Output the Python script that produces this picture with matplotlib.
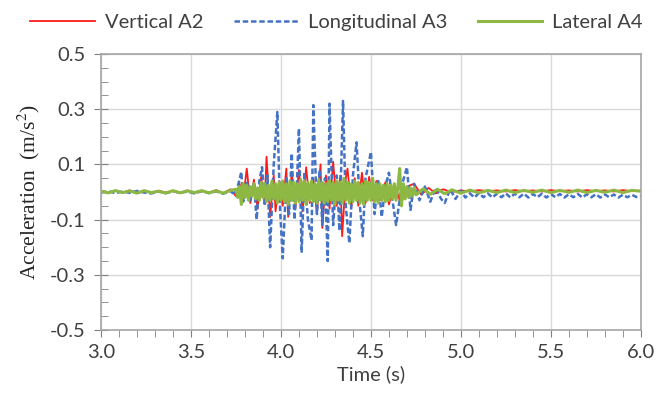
import matplotlib
matplotlib.use("Agg")
import matplotlib.pyplot as plt
import numpy as np
from matplotlib.ticker import MultipleLocator, FormatStrFormatter

# Vertical A2 (red)
red_t = [3.00, 3.04, 3.08, 3.12, 3.16, 3.20, 3.24, 3.28, 3.32, 3.36, 3.40, 3.44,
         3.48, 3.52, 3.56, 3.60, 3.64, 3.68, 3.72, 3.75, 3.77, 3.79, 3.81, 3.83,
         3.85, 3.87, 3.89, 3.91, 3.92, 3.94, 3.96, 3.97, 3.99, 4.01, 4.03, 4.04,
         4.06, 4.08, 4.10, 4.12, 4.14, 4.16, 4.18, 4.20, 4.22, 4.23, 4.25, 4.27,
         4.29, 4.31, 4.33, 4.34, 4.36, 4.37, 4.39, 4.41, 4.43, 4.45, 4.47, 4.49,
         4.51, 4.53, 4.55, 4.58, 4.60, 4.63, 4.66, 4.70, 4.74, 4.78, 4.82, 4.86,
         4.90, 4.95, 5.00, 5.05, 5.10, 5.15, 5.20, 5.25, 5.30, 5.35, 5.40, 5.45,
         5.50, 5.55, 5.60, 5.65, 5.70, 5.75, 5.80, 5.85, 5.90, 5.95, 6.00]
red_a = [0.004, -0.003, 0.005, -0.002, 0.006, -0.004, 0.003, -0.003, 0.005, -0.002, 0.004, -0.004,
         0.006, -0.003, 0.004, -0.002, 0.007, -0.004, 0.010, -0.015, 0.030, -0.025, 0.085, -0.040,
         0.045, -0.060, 0.055, -0.030, 0.128, -0.090, 0.060, -0.070, 0.040, -0.050, 0.085, -0.090,
         0.070, -0.060, 0.080, -0.070, 0.090, -0.040, 0.050, -0.080, 0.100, -0.130, 0.060, -0.060,
         0.110, -0.050, 0.060, -0.160, 0.050, 0.085, -0.060, 0.050, -0.050, 0.070, -0.040, 0.055,
         -0.030, 0.040, -0.030, 0.035, -0.045, 0.030, -0.030, 0.020, 0.030, -0.010, 0.015, -0.005,
         0.010, 0.000, 0.006, 0.002, 0.007, 0.003, 0.006, 0.002, 0.007, 0.003, 0.006, 0.002,
         0.007, 0.003, 0.006, 0.002, 0.007, 0.003, 0.006, 0.002, 0.007, 0.003, 0.005]

# Longitudinal A3 (blue dashed)
blue_t = [3.00, 3.04, 3.08, 3.12, 3.16, 3.20, 3.24, 3.28, 3.32, 3.36, 3.40, 3.44,
          3.48, 3.52, 3.56, 3.60, 3.64, 3.68, 3.72, 3.74, 3.76, 3.78, 3.79, 3.81,
          3.83, 3.85, 3.865, 3.88, 3.895, 3.91, 3.925, 3.94, 3.96, 3.98, 3.995, 4.01,
          4.03, 4.045, 4.06, 4.075, 4.09, 4.10, 4.115, 4.13, 4.15, 4.17, 4.18, 4.20,
          4.215, 4.23, 4.245, 4.26, 4.27, 4.29, 4.31, 4.325, 4.345, 4.36, 4.38, 4.40,
          4.42, 4.44, 4.455, 4.47, 4.50, 4.52, 4.54, 4.56, 4.58, 4.60, 4.62, 4.64,
          4.67, 4.70, 4.72, 4.74, 4.77, 4.80, 4.83, 4.86, 4.89, 4.91, 4.94, 4.97,
          5.00, 5.025, 5.05, 5.075, 5.10, 5.125, 5.15, 5.175, 5.20, 5.225, 5.25, 5.275,
          5.30, 5.325, 5.35, 5.375, 5.40, 5.425, 5.45, 5.475, 5.50, 5.525, 5.55, 5.575,
          5.60, 5.625, 5.65, 5.675, 5.70, 5.725, 5.75, 5.775, 5.80, 5.825, 5.85, 5.875,
          5.90, 5.925, 5.95, 5.975, 6.00]
blue_a = [-0.002, 0.003, -0.004, 0.002, -0.003, 0.004, -0.002, -0.005, 0.002, -0.004, 0.003, -0.003,
          0.002, -0.005, 0.003, -0.004, 0.002, -0.006, 0.004, -0.010, 0.020, 0.073, -0.035, 0.040,
          -0.030, 0.030, -0.100, 0.040, 0.090, -0.050, 0.060, -0.200, 0.100, 0.290, -0.060, -0.240,
          0.050, -0.080, 0.140, -0.100, 0.050, 0.230, -0.220, 0.070, -0.100, -0.175, 0.315, -0.080,
          0.080, -0.120, 0.050, -0.250, 0.320, -0.120, 0.060, -0.140, 0.330, -0.050, -0.185, 0.060,
          0.180, -0.060, -0.160, 0.050, 0.145, -0.080, 0.040, -0.090, 0.020, 0.070, -0.030, -0.120,
          0.020, 0.090, -0.065, 0.030, -0.030, 0.020, -0.035, 0.015, -0.025, -0.040, 0.010, -0.025,
          0.005, -0.020, -0.005, -0.020, -0.004, -0.019, -0.005, -0.020, -0.006, -0.019, -0.005, -0.020,
          -0.006, -0.019, -0.006, -0.020, -0.007, -0.019, -0.006, -0.020, -0.007, -0.019, -0.007, -0.020,
          -0.008, -0.019, -0.007, -0.020, -0.008, -0.019, -0.008, -0.020, -0.009, -0.019, -0.009, -0.020,
          -0.010, -0.019, -0.010, -0.018, -0.014]

# Lateral A4 (green)
green_t = [3.00, 3.04, 3.08, 3.12, 3.16, 3.20, 3.24, 3.28, 3.32, 3.36, 3.40, 3.44,
           3.48, 3.52, 3.56, 3.60, 3.64, 3.68, 3.72,
           3.75, 3.76, 3.77, 3.78, 3.79, 3.80, 3.81, 3.82, 3.83, 3.84, 3.85, 3.86,
           3.87, 3.88, 3.89, 3.90, 3.91, 3.92, 3.93, 3.94, 3.95, 3.96, 3.97, 3.98,
           3.99, 4.00, 4.01, 4.02, 4.03, 4.04, 4.05, 4.06, 4.07, 4.08, 4.09, 4.10,
           4.11, 4.12, 4.13, 4.14, 4.15, 4.16, 4.17, 4.18, 4.19, 4.20, 4.21, 4.22,
           4.23, 4.24, 4.25, 4.26, 4.27, 4.28, 4.29, 4.30, 4.31, 4.32, 4.33, 4.34,
           4.35, 4.36, 4.37, 4.38, 4.39, 4.40, 4.41, 4.42, 4.43, 4.44, 4.45, 4.46,
           4.47, 4.48, 4.49, 4.50, 4.51, 4.52, 4.53, 4.54, 4.55, 4.56, 4.57, 4.58,
           4.59, 4.60, 4.61, 4.62, 4.63, 4.64, 4.65, 4.66, 4.67, 4.68, 4.69, 4.70,
           4.71, 4.72, 4.73, 4.74, 4.75,
           4.79, 4.83, 4.87, 4.91, 4.95, 5.00, 5.05, 5.10, 5.15, 5.20, 5.25, 5.30,
           5.35, 5.40, 5.45, 5.50, 5.55, 5.60, 5.65, 5.70, 5.75, 5.80, 5.85, 5.90,
           5.95, 6.00]
green_a = [0.003, -0.003, 0.005, -0.002, 0.004, -0.004, 0.005, -0.002, 0.003, -0.004, 0.005, -0.003,
           0.004, -0.002, 0.005, -0.003, 0.004, -0.004, 0.006,
           0.010, -0.020, 0.020, -0.045, 0.030, -0.020, 0.025, -0.030, 0.020, -0.015, 0.030, -0.025,
           0.015, -0.030, 0.035, -0.020, 0.030, -0.035, 0.025, -0.030, 0.040, -0.025, 0.030, -0.040,
           0.035, -0.030, 0.040, -0.035, 0.030, -0.045, 0.040, -0.030, 0.035, -0.040, 0.030, -0.035,
           0.045, -0.030, 0.040, -0.045, 0.035, -0.030, 0.040, -0.035, 0.030, -0.040, 0.045, -0.030,
           0.035, -0.040, 0.030, -0.035, 0.040, -0.030, 0.035, -0.045, 0.040, -0.030, 0.035, -0.040,
           0.050, -0.030, 0.035, -0.040, 0.030, -0.035, 0.040, -0.030, 0.035, -0.040, 0.030, -0.045,
           0.040, -0.030, 0.035, -0.030, 0.050, -0.035, 0.030, -0.040, 0.030, -0.030, 0.025, -0.035,
           0.030, -0.030, 0.025, -0.025, 0.030, -0.030, 0.020, 0.085, -0.050, 0.030, -0.025, 0.020,
           -0.020, 0.015, -0.015, 0.015, -0.010,
           0.012, -0.008, 0.010, -0.006, 0.008, -0.004, 0.007, -0.003, 0.006, -0.002, 0.007, -0.002,
           0.006, -0.001, 0.007, -0.002, 0.006, -0.001, 0.007, -0.002, 0.006, -0.001, 0.007, -0.002,
           0.006, 0.003]

txt = '#404040'
plt.rcParams['font.family'] = ['Lato', 'DejaVu Sans']
plt.rcParams['mathtext.fontset'] = 'stix'

fig = plt.figure(figsize=(6.6, 4.03), dpi=100)
ax = fig.add_axes([0.153, 0.181, 0.818, 0.685])

ax.plot(red_t, red_a, color='#FF1A1A', lw=1.3, label='Vertical A2')
ax.plot(blue_t, blue_a, color='#4472C4', lw=1.8, dashes=(2.2, 1.1), label='Longitudinal A3')
ax.plot(green_t, green_a, color='#8DB843', lw=2.2, label='Lateral A4')

ax.set_xlim(3.0, 6.0)
ax.set_ylim(-0.5, 0.5)
ax.xaxis.set_major_locator(MultipleLocator(0.5))
ax.xaxis.set_minor_locator(MultipleLocator(0.1))
ax.set_yticks(np.arange(-0.5, 0.51, 0.2))
ax.yaxis.set_minor_locator(MultipleLocator(0.05))
ax.xaxis.set_major_formatter(FormatStrFormatter('%.1f'))
ax.yaxis.set_major_formatter(FormatStrFormatter('%.1f'))

ax.grid(True, which='major', color='#D9D9D9', lw=1.0)
ax.set_axisbelow(True)
for s in ax.spines.values():
    s.set_color('#A6A6A6')
    s.set_linewidth(1.2)

ax.tick_params(axis='x', which='both', direction='out', length=5, color='#808080',
               labelsize=14.5, labelcolor=txt, pad=5)
ax.tick_params(axis='y', which='major', direction='inout', length=10, color='#808080',
               labelsize=14.5, labelcolor=txt, pad=6)
ax.tick_params(axis='y', which='minor', direction='in', length=5, color='#808080')

ax.set_xlabel('Time (s)', fontsize=14.5, color=txt, labelpad=3)
ax.set_ylabel('Acceleration  (m/s$^{2}$)', fontsize=15.5, family='Liberation Serif',
              color='#262626', labelpad=6)

fig.legend(loc='upper center', bbox_to_anchor=(0.51, 1.01), ncol=3, frameon=False,
           fontsize=14.5, labelcolor=txt, handlelength=3.2, columnspacing=1.5,
           handletextpad=0.5)

fig.savefig('out.png', dpi=100)
